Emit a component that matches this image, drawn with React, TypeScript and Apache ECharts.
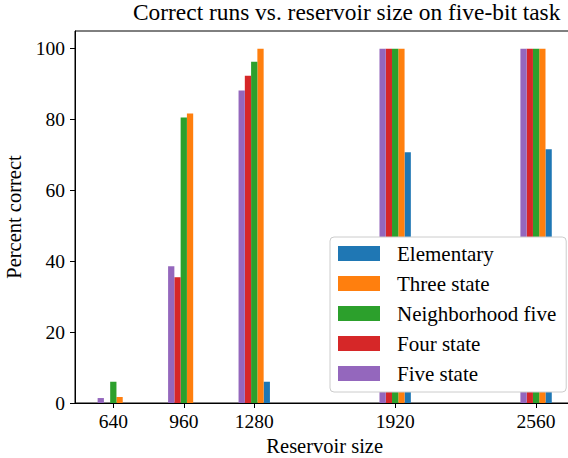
import React, { useEffect, useRef } from "react";
import * as echarts from "echarts";

const reservoirSizes = [640, 960, 1280, 1920, 2560];
const yTicks = [0, 20, 40, 60, 80, 100];
const elementary = [0, 0, 6, 70.8, 71.6];
const threeState = [1.7, 81.7, 100, 100, 100];
const neighborhoodFive = [6, 80.6, 96.3, 100, 100];
const fourState = [0, 35.5, 92.4, 100, 100];
const fiveState = [1.4, 38.6, 88.2, 100, 100];

const FONT = "Liberation Serif";

export default function App() {
  const ref = useRef<HTMLDivElement>(null);
  useEffect(() => {
    if (!ref.current) return;
    const chart = echarts.init(ref.current, null, { renderer: "svg" });
    const w = 28.5; // bar width in data units
    const xMin = 466;
    const xMax = 2734;
    const gridLeft = 75;
    const gridRight = -6.4;
    const plotW = 568 - gridLeft - gridRight;
    const barPx = (w * plotW) / (xMax - xMin);
    const mk = (name: string, vals: number[], off: number, color: string) => ({
      name,
      type: "bar",
      data: reservoirSizes.map((s, i) => [s + off * w, vals[i]]),
      barWidth: barPx,
      barGap: "-100%",
      itemStyle: { color },
    });
    chart.setOption({
      animation: false,
      backgroundColor: "#fff",
      textStyle: { fontFamily: FONT },
      graphic: [
        {
          type: "text",
          x: 346.7,
          y: 0,
          style: {
            text: "Correct runs vs. reservoir size on five-bit task",
            font: `23.4px "${FONT}"`,
            fill: "#000",
            textAlign: "center",
            textVerticalAlign: "top",
          },
        },
      ],
      grid: {
        left: gridLeft,
        right: gridRight,
        top: 31,
        bottom: 55,
        show: true,
        borderColor: "#000",
        borderWidth: 1,
        outerBoundsMode: "none",
        containLabel: false,
      },
      legend: {
        orient: "vertical",
        left: 330,
        top: 237,
        icon: "rect",
        itemWidth: 42,
        itemHeight: 15,
        itemGap: 9,
        padding: [6, 10, 8, 8],
        backgroundColor: "#fff",
        borderColor: "#ccc",
        borderWidth: 1,
        borderRadius: 4,
        data: ["Elementary", "Three state", "Neighborhood five", "Four state", "Five state"],
        formatter: "{t|{name}}",
        textStyle: {
          fontFamily: FONT,
          fontSize: 21,
          color: "#000",
          lineHeight: 20,
          rich: {
            t: {
              fontFamily: FONT,
              fontSize: 21,
              color: "#000",
              lineHeight: 20,
              padding: [0, 0, 0, 12],
            },
          },
        },
      },
      xAxis: {
        type: "value",
        min: xMin,
        max: xMax,
        name: "Reservoir size",
        nameLocation: "middle",
        nameGap: 32,
        nameTextStyle: { fontFamily: FONT, fontSize: 20.5, color: "#000" },
        axisLine: { show: true, lineStyle: { color: "#000", width: 1 } },
        axisTick: {
          show: true,
          length: 5,
          customValues: reservoirSizes,
          lineStyle: { color: "#000" },
        },
        axisLabel: {
          customValues: reservoirSizes,
          formatter: (v: number) => String(v),
          fontFamily: FONT,
          fontSize: 19.5,
          color: "#000",
          margin: 8,
        },
        splitLine: { show: false },
      },
      yAxis: {
        type: "value",
        min: 0,
        max: 105,
        name: "Percent correct",
        nameLocation: "middle",
        nameGap: 47,
        nameTextStyle: { fontFamily: FONT, fontSize: 20.5, color: "#000" },
        axisLine: { show: true, lineStyle: { color: "#000", width: 1 } },
        axisTick: {
          show: true,
          length: 5,
          customValues: yTicks,
          lineStyle: { color: "#000" },
        },
        axisLabel: {
          customValues: yTicks,
          formatter: (v: number) => String(v),
          fontFamily: FONT,
          fontSize: 19.5,
          color: "#000",
          margin: 10,
        },
        splitLine: { show: false },
      },
      series: [
        mk("Elementary", elementary, 2, "#1f77b4"),
        mk("Three state", threeState, 1, "#ff7f0e"),
        mk("Neighborhood five", neighborhoodFive, 0, "#2ca02c"),
        mk("Four state", fourState, -1, "#d62728"),
        mk("Five state", fiveState, -2, "#9467bd"),
      ],
    });
    return () => chart.dispose();
  }, []);
  return <div ref={ref} style={{ width: 568, height: 458, position: "fixed", left: 0, top: 0 }} />;
}
